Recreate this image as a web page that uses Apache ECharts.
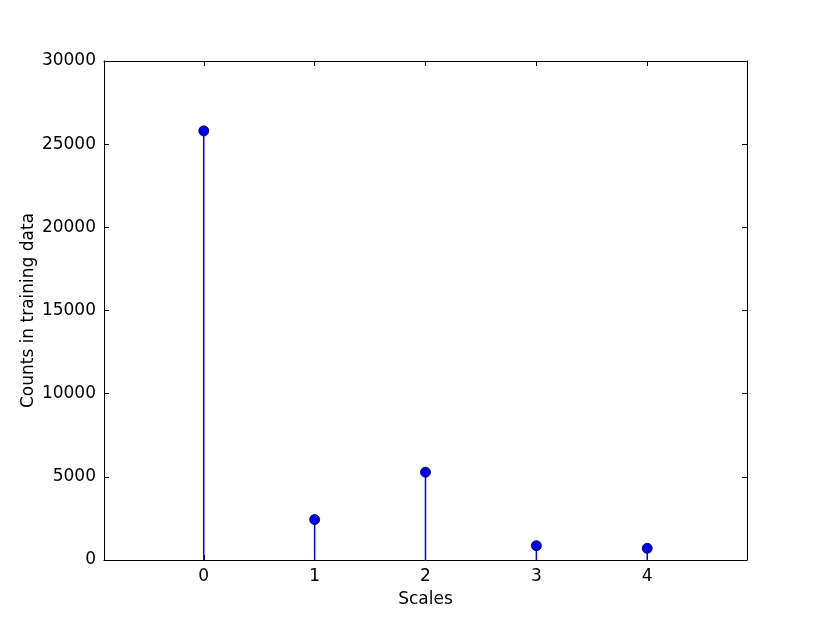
<!DOCTYPE html>
<html>
<head>
<meta charset="utf-8">
<script src="https://cdn.jsdelivr.net/npm/echarts@6/dist/echarts.min.js"></script>
<style>
  html, body { margin: 0; padding: 0; background: #fff; }
  #chart { width: 830px; height: 623px; }
</style>
</head>
<body>
<div id="chart"></div>
<script>
// stem plot data
var scales = [0, 1, 2, 3, 4];
var counts = [25800, 2430, 5280, 860, 700];
var yTicks = [0, 5000, 10000, 15000, 20000, 25000, 30000];

var points = scales.map(function (s, i) { return [s, counts[i]]; });

var font = 'DejaVu Sans';
var tickStyle = { show: true, inside: true, length: 5, lineStyle: { color: '#000', width: 1 } };

function xAxisCfg(pos, showLabel) {
    return {
        type: 'value',
        position: pos,
        min: -0.9,
        max: 4.9,
        splitLine: { show: false },
        axisLine: { show: true, onZero: false, lineStyle: { color: '#000', width: 1 } },
        axisTick: Object.assign({ customValues: scales }, tickStyle),
        axisLabel: {
            show: showLabel, customValues: scales, color: '#000',
            fontFamily: font, fontSize: 17, margin: 8,
            formatter: function (v) { return String(v); }
        },
        name: showLabel ? 'Scales' : '',
        nameLocation: 'middle',
        nameGap: 31,
        nameTextStyle: { color: '#000', fontFamily: font, fontSize: 17 }
    };
}

function yAxisCfg(pos, showLabel) {
    return {
        type: 'value',
        position: pos,
        min: 0,
        max: 30000,
        interval: 5000,
        splitLine: { show: false },
        axisLine: { show: true, onZero: false, lineStyle: { color: '#000', width: 1 } },
        axisTick: tickStyle,
        axisLabel: {
            show: showLabel, customValues: yTicks, color: '#000',
            fontFamily: font, fontSize: 17, margin: 8,
            formatter: function (v) { return String(v); }
        },
        name: showLabel ? 'Counts in training data' : '',
        nameLocation: 'middle',
        nameGap: 67,
        nameMoveOverlap: false,
        nameTextStyle: { color: '#000', fontFamily: font, fontSize: 17 }
    };
}

var chart = echarts.init(document.getElementById('chart'));
chart.setOption({
    animation: false,
    backgroundColor: '#fff',
    grid: { left: 104, right: 83, top: 61, bottom: 63 },
    xAxis: [xAxisCfg('bottom', true), xAxisCfg('top', false)],
    yAxis: [yAxisCfg('left', true), yAxisCfg('right', false)],
    series: [
        {
            type: 'custom',
            data: points,
            renderItem: function (params, api) {
                var top = api.coord([api.value(0), api.value(1)]);
                var base = api.coord([api.value(0), 0]);
                return {
                    type: 'line',
                    shape: { x1: top[0], y1: top[1], x2: base[0], y2: base[1] },
                    style: { stroke: '#0000ff', lineWidth: 1.5 }
                };
            },
            z: 2
        },
        {
            type: 'scatter',
            data: points,
            symbol: 'circle',
            symbolSize: 10,
            itemStyle: { color: '#0000ff', opacity: 1, borderColor: '#000', borderWidth: 0.8 },
            z: 3
        }
    ]
});
</script>
</body>
</html>
